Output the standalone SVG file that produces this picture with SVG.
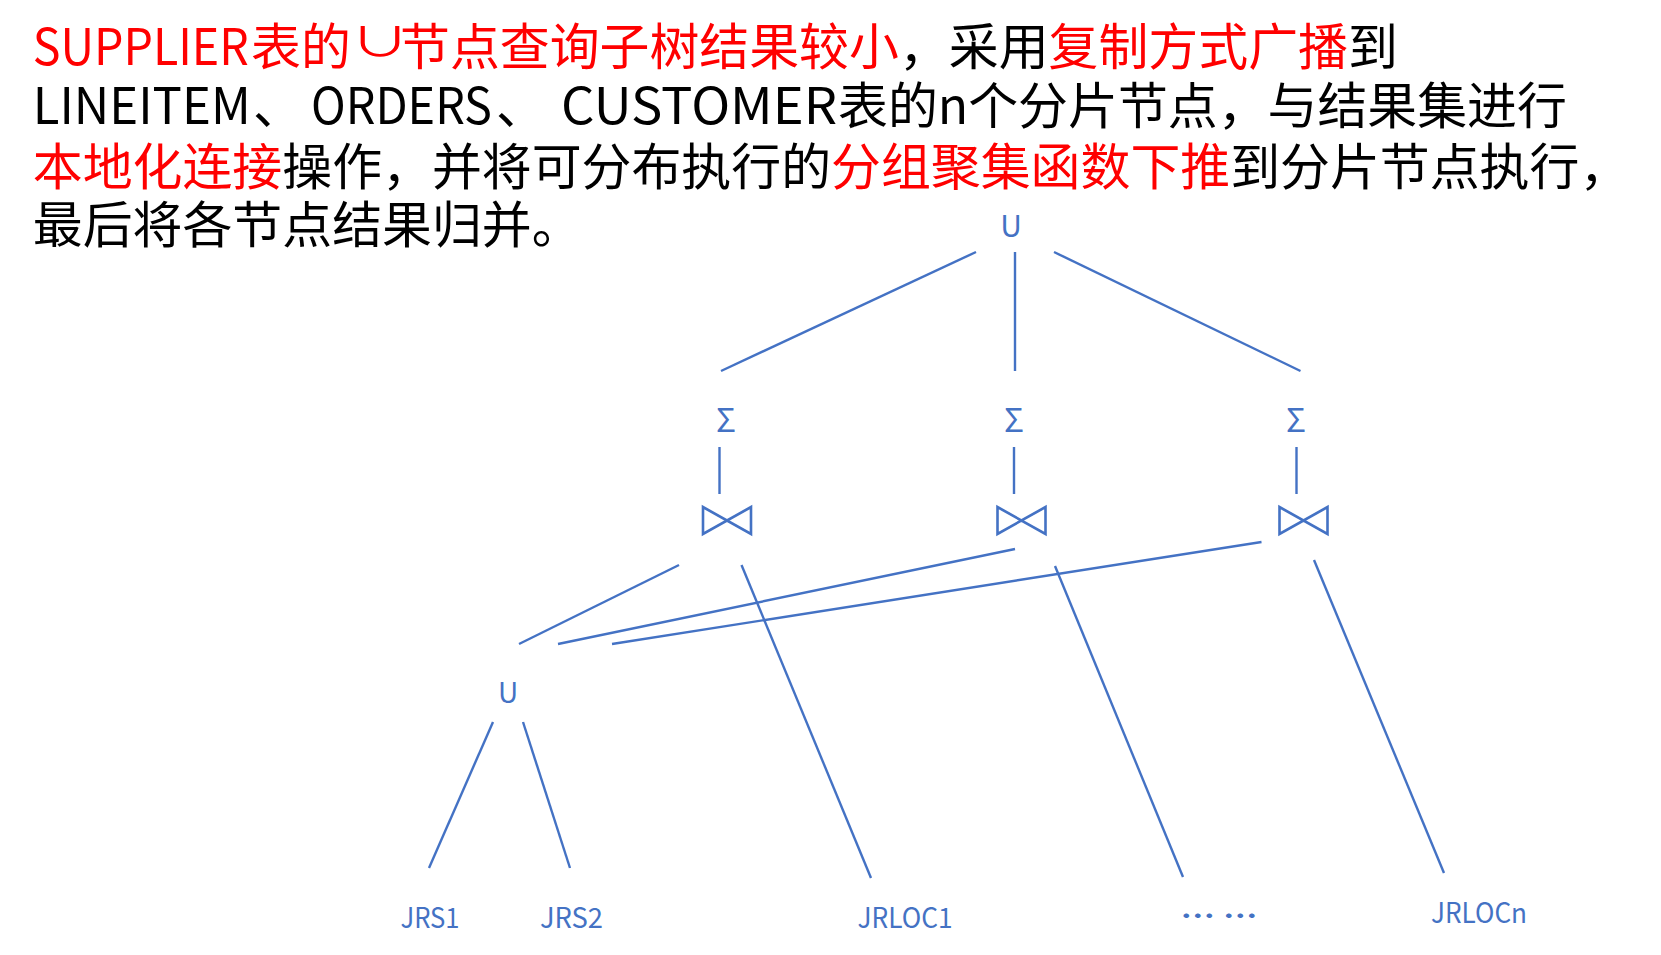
<svg xmlns="http://www.w3.org/2000/svg" width="1661" height="955" viewBox="0 0 1661 955">
<style>
.t{font-family:"Noto Sans CJK SC","Noto Sans",sans-serif;font-size:49.9px;fill:#000}
.r{fill:#FF0000}
.lbl{font-family:"Noto Sans CJK SC","Noto Sans",sans-serif;font-size:28px;fill:#4472C4;text-anchor:middle}
.c line{stroke:#4472C4;stroke-width:2.4;fill:none}
.bow{stroke:#4472C4;stroke-width:2.6;fill:none;stroke-linejoin:miter}
</style>
<rect width="1661" height="955" fill="#fff"/>
<g id="caption">
<text class="t r" x="32.8" y="65" textLength="216" lengthAdjust="spacingAndGlyphs">SUPPLIER</text>
<text class="t r" x="251" y="65">表的</text>
<text class="t r" transform="translate(380,56) scale(1.5,1)" style="text-anchor:middle;font-size:40px">∪</text>
<text class="t" x="400" y="65"><tspan class="r">节点查询子树结果较小</tspan>，采用<tspan class="r">复制方式广播</tspan>到</text>
<text class="t" x="32.8" y="124" textLength="218" lengthAdjust="spacingAndGlyphs">LINEITEM</text>
<text class="t" x="253" y="124">、</text>
<text class="t" x="311" y="124" textLength="181" lengthAdjust="spacingAndGlyphs">ORDERS</text>
<text class="t" x="496" y="124">、</text>
<text class="t" x="561" y="124" textLength="276" lengthAdjust="spacingAndGlyphs">CUSTOMER</text>
<text class="t" x="838" y="124">表的n个分片节点，与结果集进行</text>
<text class="t" x="32.8" y="185"><tspan class="r">本地化连接</tspan>操作，并将可分布执行的<tspan class="r">分组聚集函数下推</tspan>到分片节点执行，</text>
<text class="t" x="32.8" y="243">最后将各节点结果归并。</text>
</g>
<g id="connectors" class="c">
<line x1="976" y1="252" x2="721" y2="371"/>
<line x1="1015" y1="252" x2="1015" y2="371"/>
<line x1="1054" y1="252" x2="1300.5" y2="371"/>
<line x1="719.5" y1="447" x2="719.5" y2="494"/>
<line x1="1014" y1="447" x2="1014" y2="494"/>
<line x1="1296.5" y1="447" x2="1296.5" y2="494"/>
<line x1="679" y1="565" x2="519" y2="644"/>
<line x1="741.5" y1="565" x2="871" y2="878"/>
<line x1="1015" y1="549" x2="558" y2="644"/>
<line x1="1055" y1="566" x2="1183" y2="877"/>
<line x1="1261.5" y1="542" x2="612" y2="644"/>
<line x1="1314" y1="560" x2="1444" y2="873"/>
<line x1="493" y1="722" x2="429" y2="868"/>
<line x1="523" y1="722" x2="570" y2="868"/>
</g>
<g id="union-top"><text class="lbl" x="1011" y="237" style="font-size:30px">U</text></g>
<g id="sum-1"><text class="lbl" x="726" y="432" style="font-size:33px">Σ</text></g>
<g id="sum-2"><text class="lbl" x="1014" y="432" style="font-size:33px">Σ</text></g>
<g id="sum-3"><text class="lbl" x="1296" y="432" style="font-size:33px">Σ</text></g>
<g id="join-1"><path class="bow" d="M703,507 L703,534 L751,507 L751,534 Z"/></g>
<g id="join-2"><path class="bow" d="M997.5,507 L997.5,534 L1045.5,507 L1045.5,534 Z"/></g>
<g id="join-3"><path class="bow" d="M1279.5,507 L1279.5,534 L1327.5,507 L1327.5,534 Z"/></g>
<g id="union-low"><text class="lbl" x="508" y="703" style="font-size:28px">U</text></g>
<g id="jrs1"><text class="lbl" x="430" y="928" textLength="59" lengthAdjust="spacingAndGlyphs">JRS1</text></g>
<g id="jrs2"><text class="lbl" x="571.5" y="928" textLength="63" lengthAdjust="spacingAndGlyphs">JRS2</text></g>
<g id="jrloc1"><text class="lbl" x="905" y="928" textLength="95" lengthAdjust="spacingAndGlyphs">JRLOC1</text></g>
<g id="dots"><text class="lbl" x="1219" y="927" style="font-weight:bold" textLength="77" lengthAdjust="spacingAndGlyphs">… …</text></g>
<g id="jrlocn"><text class="lbl" x="1479" y="923" textLength="96" lengthAdjust="spacingAndGlyphs">JRLOCn</text></g>
</svg>
